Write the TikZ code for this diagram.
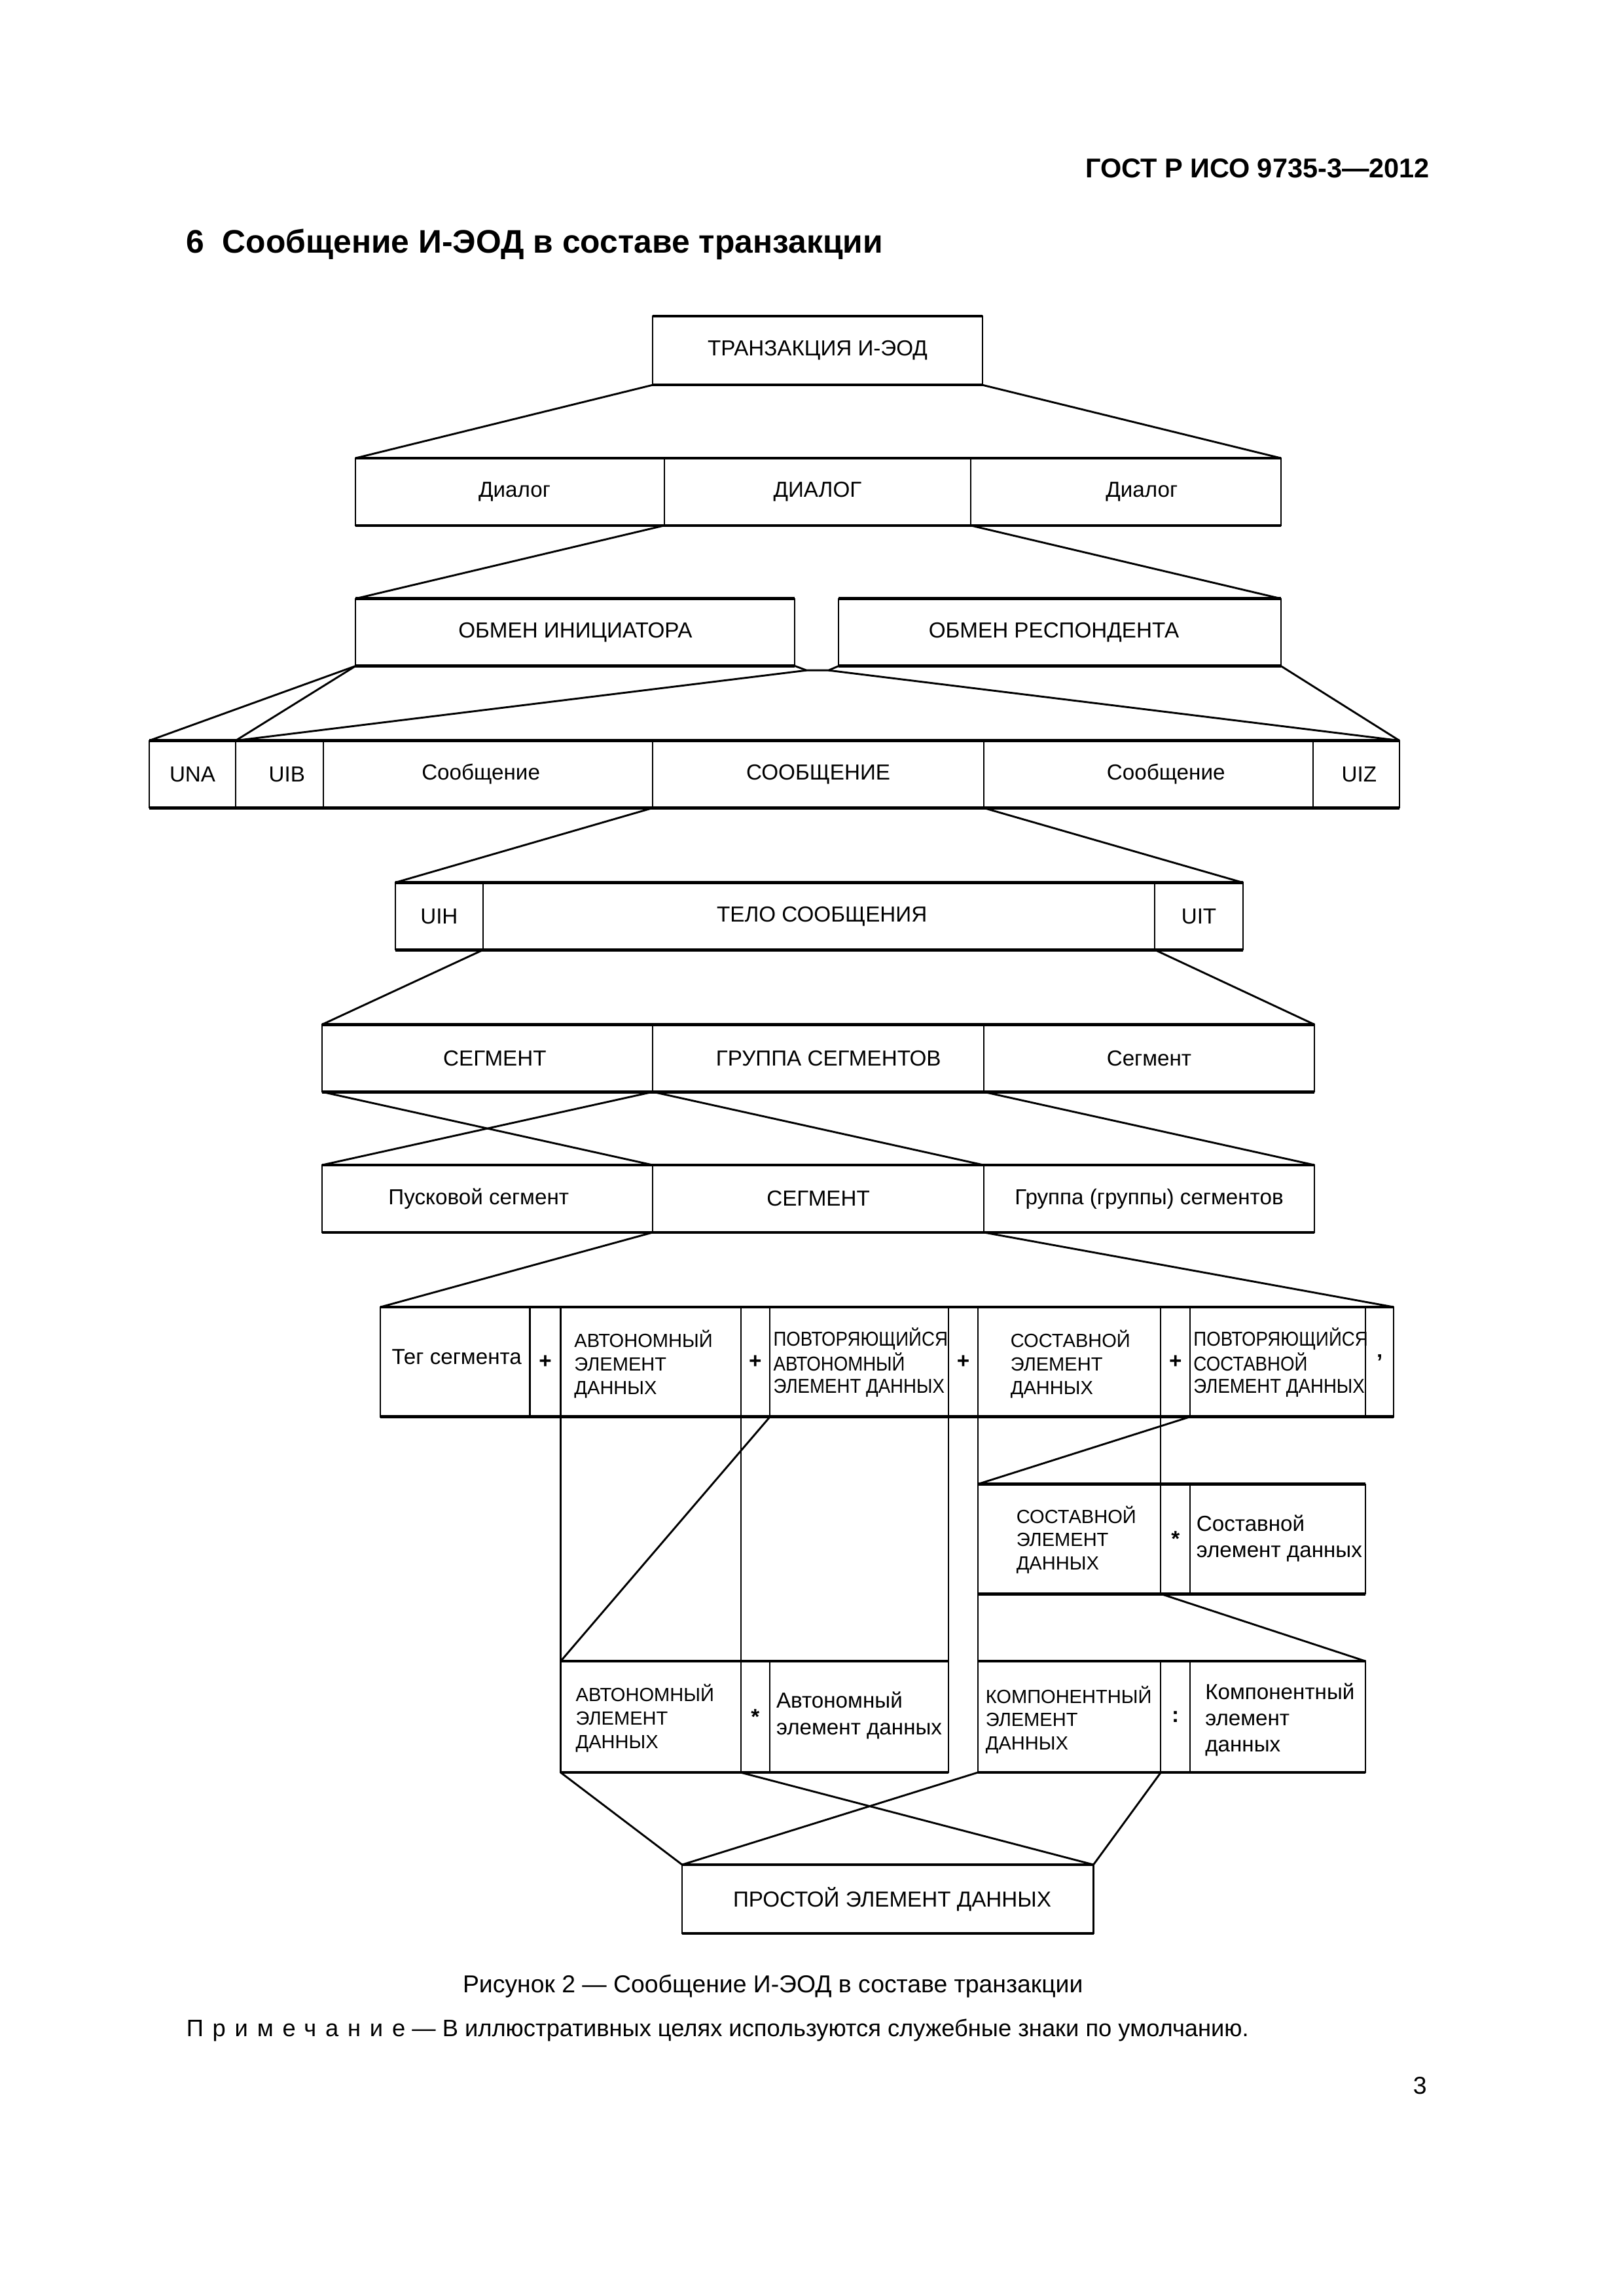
\documentclass[tikz,border=0pt]{standalone}
\usepackage{fontspec}
\setmainfont{Liberation Sans}
\newfontfamily\condf[FakeStretch=0.9]{Liberation Sans}
\newcommand\cell[7][]{\node[cellbox,#1,minimum width={(#5-#3)*0.18936mm},minimum height={(#6-#4)*0.18936mm},anchor=north west] (#2) at (#3,#4) {#7};}
% shift a centred label right (\shR) or left (\shL) by #1 drawing units
\newcommand\shR[2]{\hspace*{\dimexpr #1\dimexpr 0.37872mm\relax\relax}#2}
\newcommand\shL[2]{#2\hspace*{\dimexpr #1\dimexpr 0.37872mm\relax\relax}}
\tikzset{
  cellbox/.style={draw,line width=0.5pt,inner sep=0pt,outer sep=0pt,align=center,font=\fontsize{8}{9.6}\selectfont},
  hedge/.style={line width=1.1pt},
  conn/.style={line width=0.7pt},
  thin/.style={line width=0.5pt},
  capsthree/.style={inner sep=0pt,align=left,anchor=west,font=\fontsize{7}{8.6}\selectfont},
  condthree/.style={inner sep=0pt,align=left,anchor=west,font=\condf\fontsize{7.4}{8.1}\selectfont},
  lowtext/.style={inner sep=0pt,align=left,anchor=west,font=\fontsize{8}{9.7}\selectfont},
  sep/.style={font=\bfseries\fontsize{8}{9.6}\selectfont}
}
\begin{document}
\begin{tikzpicture}[x=0.18936mm,y=-0.18936mm]
\path[use as bounding box,fill=white] (0,0) rectangle (1109,1568.7);

% header and heading
\node[anchor=east,inner sep=0pt,font=\bfseries\fontsize{10}{12}\selectfont] (gost) at (977,115) {ГОСТ Р ИСО 9735-3—2012};
\node[anchor=west,inner sep=0pt,font=\bfseries\fontsize{12}{14}\selectfont] (head) at (127,167) {6\hspace{0.55em}Сообщение И-ЭОД в составе транзакции};

% level 0-2
\cell{trans}{446}{216}{671}{263}{ТРАНЗАКЦИЯ И-ЭОД}
\cell{d1}{243}{313}{454}{359}{\shR{3}{Диалог}}
\cell{d2}{454}{313}{663}{359}{ДИАЛОГ}
\cell{d3}{663}{313}{875}{359}{\shR{11}{Диалог}}
\cell{ini}{243}{409}{543}{455}{ОБМЕН ИНИЦИАТОРА}
\cell{resp}{573}{409}{875}{455}{\shL{4}{ОБМЕН РЕСПОНДЕНТА}}

% level 3
\cell{una}{102}{506}{161}{552}{UNA}
\cell{uib}{161}{506}{221}{552}{\shR{5}{UIB}}
\cell{m1}{221}{506}{446}{552}{\shL{5}{Сообщение}}
\cell{m2}{446}{506}{672}{552}{СООБЩЕНИЕ}
\cell{m3}{672}{506}{897}{552}{\shR{12}{Сообщение}}
\cell{uiz}{897}{506}{956}{552}{\shR{2}{UIZ}}

% level 4
\cell{uih}{270}{603}{330}{649}{UIH}
\cell{body}{330}{603}{789}{649}{\shR{2}{ТЕЛО СООБЩЕНИЯ}}
\cell{uit}{789}{603}{849}{649}{UIT}

% level 5-6
\cell{s1}{220}{700}{446}{746}{\shR{5}{СЕГМЕНТ}}
\cell{sg}{446}{700}{672}{746}{\shR{7}{ГРУППА СЕГМЕНТОВ}}
\cell{s3}{672}{700}{898}{746}{Сегмент}
\cell{start}{220}{796}{446}{842}{\shL{6}{Пусковой сегмент}}
\cell{seg}{446}{796}{672}{842}{СЕГМЕНТ}
\cell{grp}{672}{796}{898}{842}{Группа (группы) сегментов}

% level 7
\cell{tag}{260}{893}{362}{968}{}
\cell[sep]{p1}{362}{893}{383}{968}{+}
\cell{avt}{383}{893}{506}{968}{}
\cell[sep]{p2}{506}{893}{526}{968}{+}
\cell{rep}{526}{893}{648}{968}{}
\cell[sep]{p3}{648}{893}{668}{968}{+}
\cell{cmp}{668}{893}{793}{968}{}
\cell[sep]{p4}{793}{893}{813}{968}{+}
\cell{rcmp}{813}{893}{933}{968}{}
\cell[sep]{term}{933}{893}{952}{968}{’}
\node[inner sep=0pt,font=\fontsize{8}{9.6}\selectfont] (t-tag) at (312,927) {Тег сегмента};
\node[capsthree] (t-avt) at (392,932) {АВТОНОМНЫЙ\\ЭЛЕМЕНТ\\ДАННЫХ};
\node[condthree] (t-rep) at (528,931) {ПОВТОРЯЮЩИЙСЯ\\АВТОНОМНЫЙ\\ЭЛЕМЕНТ ДАННЫХ};
\node[capsthree] (t-cmp) at (690,932) {СОСТАВНОЙ\\ЭЛЕМЕНТ\\ДАННЫХ};
\node[condthree] (t-rcmp) at (815,931) {ПОВТОРЯЮЩИЙСЯ\\СОСТАВНОЙ\\ЭЛЕМЕНТ ДАННЫХ};

% composite row
\cell{c1}{668}{1014}{793}{1089}{}
\cell[sep]{c2}{793}{1014}{813}{1089}{*}
\cell{c3}{813}{1014}{933}{1089}{}
\node[capsthree] (t-c1) at (694,1052) {СОСТАВНОЙ\\ЭЛЕМЕНТ\\ДАННЫХ};
\node[lowtext] (t-c3) at (817,1051) {Составной\\элемент данных};

% bottom rows
\cell{a1}{383}{1135}{506}{1211}{}
\cell[sep]{a2}{506}{1135}{526}{1211}{*}
\cell{a3}{526}{1135}{648}{1211}{}
\cell{k1}{668}{1135}{793}{1211}{}
\cell[sep]{k2}{793}{1135}{813}{1211}{:}
\cell{k3}{813}{1135}{933}{1211}{}
\node[capsthree] (t-a1) at (393,1174) {АВТОНОМНЫЙ\\ЭЛЕМЕНТ\\ДАННЫХ};
\node[lowtext] (t-a3) at (530,1172) {Автономный\\элемент данных};
\node[capsthree] (t-k1) at (673,1175) {КОМПОНЕНТНЫЙ\\ЭЛЕМЕНТ\\ДАННЫХ};
\node[lowtext] (t-k3) at (823,1175) {Компонентный\\элемент\\данных};

\cell{pr}{466}{1274}{747}{1321}{\shR{3}{ПРОСТОЙ ЭЛЕМЕНТ ДАННЫХ}}

% thicker horizontal edges
\foreach \a/\b in {trans/trans,d1/d3,ini/ini,resp/resp,una/uiz,uih/uit,s1/s3,start/grp,tag/term,c1/c3,a1/a3,k1/k3,pr/pr}{
  \draw[hedge] (\a.north west) -- (\b.north east);
  \draw[hedge] (\a.south west) -- (\b.south east);
}

% connectors
\coordinate (j1) at (551,458);
\coordinate (j2) at (566,458);
\draw[conn] (trans.south west) -- (d1.north west);
\draw[conn] (trans.south east) -- (d3.north east);
\draw[conn] (d2.south west) -- (ini.north west);
\draw[conn] (d2.south east) -- (resp.north east);
\draw[conn] (ini.south west) -- (una.north west);
\draw[conn] (ini.south west) -- (uib.north west);
\draw[conn] (ini.south east) -- (j1) -- (j2) -- (resp.south west);
\draw[conn] (j1) -- (uib.north west);
\draw[conn] (j2) -- (uiz.north east);
\draw[conn] (resp.south east) -- (uiz.north east);
\draw[conn] (m2.south west) -- (uih.north west);
\draw[conn] (m2.south east) -- (uit.north east);
\draw[conn] (body.south west) -- (s1.north west);
\draw[conn] (body.south east) -- (s3.north east);
\draw[conn] (s1.south west) -- (seg.north west);
\draw[conn] (sg.south west) -- (start.north west);
\draw[conn] (sg.south west) -- (grp.north west);
\draw[conn] (s3.south west) -- (grp.north east);
\draw[conn] (seg.south west) -- (tag.north west);
\draw[conn] (seg.south east) -- (term.north east);
\draw[thin] (avt.south west) -- (a1.north west);
\draw[thin] (p2.south west) -- (a2.north west);
\draw[thin] (rep.south east) -- (a3.north east);
\draw[thin] (cmp.south west) -- (c1.north west);
\draw[thin] (c1.south west) -- (k1.north west);
\draw[thin] (p4.south west) -- (c2.north west);
\draw[conn] (rep.south west) -- (a1.north west);
\draw[conn] (rcmp.south west) -- (c1.north west);
\draw[conn] (c2.south west) -- (k3.north east);
\draw[conn] (a1.south west) -- (pr.north west);
\draw[conn] (a2.south west) -- (pr.north east);
\draw[conn] (k1.south west) -- (pr.north west);
\draw[conn] (k2.south west) -- (pr.north east);

% caption, note, page number
\node[inner sep=0pt,font=\fontsize{9}{11}\selectfont] (cap) at (528,1357) {Рисунок 2 — Сообщение И-ЭОД в составе транзакции};
\node[anchor=west,inner sep=0pt,font=\fontsize{8.75}{11}\selectfont] (note) at (127,1387) {{\addfontfeature{LetterSpace=38}Примечание} — В иллюстративных целях используются служебные знаки по умолчанию.};
\node[inner sep=0pt,font=\fontsize{9}{11}\selectfont] (pg) at (970,1425) {3};
\end{tikzpicture}
\end{document}
